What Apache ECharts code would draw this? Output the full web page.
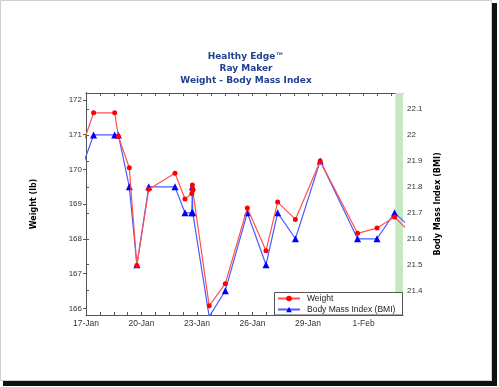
<!DOCTYPE html>
<html><head><meta charset="utf-8">
<script src="https://cdn.jsdelivr.net/npm/echarts@6/dist/echarts.min.js"></script>
<style>html,body{margin:0;padding:0;background:#fff}#c{width:499px;height:387px}</style>
</head><body><div id="c"></div>
<script>
// ---- data ----
const baseDate = '2009-01-17T00:00Z';
const readingTimes = [
  '2009-01-16T09:50','2009-01-17T09:50','2009-01-18T13:12','2009-01-18T18:00',
  '2009-01-19T08:10','2009-01-19T18:00','2009-01-20T09:22','2009-01-21T19:26',
  '2009-01-22T08:24','2009-01-22T17:17','2009-01-22T18:00','2009-01-22T18:29',
  '2009-01-23T15:50','2009-01-24T12:43','2009-01-25T17:17','2009-01-26T17:31',
  '2009-01-27T08:38','2009-01-28T07:41','2009-01-29T15:50','2009-01-31T16:19',
  '2009-02-01T17:31','2009-02-02T16:19','2009-02-04T04:48'
];
const weightLb = [170.07,171.63,171.63,170.95,170.05,167.23,169.43,169.89,169.15,169.31,169.55,169.40,
  166.07,166.71,168.89,167.66,169.06,168.56,170.24,168.16,168.31,168.63,167.82];
const bmiValues = [21.8,22.0,22.0,22.0,21.8,21.5,21.8,21.8,21.7,21.7,21.8,21.7,
  21.3,21.4,21.7,21.5,21.7,21.6,21.9,21.6,21.6,21.7,21.6];
const weightTicks = [166,167,168,169,170,171,172];
const bmiTicks = [21.4,21.5,21.6,21.7,21.8,21.9,22,22.1];
const dateLabelDays = [0,3,6,9,12,15];
const dateTickDays = [0,0.75,1.5,2.25,3,3.75,4.5,5.25,6,6.75,7.5,8.25,9,9.75,10.5,11.25,12,12.75,13.5,14.25,15,15.75,16.5];
const monthNames = ['Jan','Feb','Mar','Apr','May','Jun','Jul','Aug','Sep','Oct','Nov','Dec'];
const axisEndDay = 17.135;
const bandStartDay = 16.72;
const weightRange = [165.807, 172.2016];
const bmiRange = [21.3064, 22.1616];
const titleLines = ['Healthy Edge\u2122','Ray Maker','Weight - Body Mass Index'];

// ---- build ----
const base = Date.parse(baseDate);
const dayOf = t => (Date.parse(t + 'Z') - base) / 86400000;
const xs = readingTimes.map(dayOf);
const weightData = xs.map((x, i) => [x, weightLb[i]]);
const bmiData = xs.map((x, i) => [x, bmiValues[i]]);
const fmtDay = v => { const d = new Date(base + v * 86400000); return d.getUTCDate() + '-' + monthNames[d.getUTCMonth()]; };

const chart = echarts.init(document.getElementById('c'), null, {renderer: 'canvas'});
const lblFont = 'Liberation Sans';
chart.setOption({
  animation: false,
  graphic: [
    {type: 'rect', z: 0, shape: {x: 0.5, y: 0.5, width: 491, height: 380}, style: {fill: '#fff', stroke: '#cfcfcf', lineWidth: 1}},
    {type: 'rect', z: 0, shape: {x: 492, y: 3, width: 5, height: 383}, style: {fill: '#111'}},
    {type: 'rect', z: 0, shape: {x: 3, y: 381, width: 494, height: 5}, style: {fill: '#111'}},
    {type: 'text', z: 5, x: 246, y: 51, style: {text: titleLines.join('\n'), textAlign: 'center', fill: '#21418f',
      font: 'bold 9px "DejaVu Sans"', lineHeight: 12}},
    {type: 'rect', z: 30, shape: {x: 274.5, y: 292.5, width: 128, height: 22.5}, style: {fill: '#fff', stroke: '#555', lineWidth: 1}}
  ],
  grid: {left: 86, right: 96, top: 93, bottom: 72, show: true, borderColor: '#555', borderWidth: 1,
    backgroundColor: new echarts.graphic.LinearGradient(0, 0, 0, 1, [{offset: 0, color: '#fefefe'}, {offset: 1, color: '#ebebeb'}])},
  legend: {
    z: 40, orient: 'vertical', left: 277, top: 294, padding: 0, itemWidth: 22, itemHeight: 7, itemGap: 2,
    textStyle: {fontSize: 8.5, fontFamily: lblFont, color: '#222', padding: [0, 0, 0, 2]},
    data: ['Weight', 'Body Mass Index (BMI)']
  },
  xAxis: [
    {type: 'value', position: 'bottom', min: 0, max: axisEndDay,
      axisLine: {show: true, lineStyle: {color: '#555'}},
      axisTick: {show: true, inside: true, length: 3, customValues: dateTickDays, lineStyle: {color: '#555'}},
      axisLabel: {customValues: dateLabelDays, formatter: fmtDay, fontSize: 8.5, fontFamily: lblFont, color: '#333', margin: 4},
      splitLine: {show: false}},
    {type: 'value', position: 'top', min: 0, max: axisEndDay,
      axisLine: {show: true, lineStyle: {color: '#555'}},
      axisTick: {show: true, inside: true, length: 3, customValues: dateTickDays, lineStyle: {color: '#555'}},
      axisLabel: {show: false}, splitLine: {show: false}}
  ],
  yAxis: [
    {type: 'value', position: 'left', min: weightRange[0], max: weightRange[1],
      name: 'Weight (lb)', nameLocation: 'middle', nameRotate: 90, nameGap: 48,
      nameTextStyle: {fontFamily: 'DejaVu Sans', fontWeight: 'bold', fontSize: 8, color: '#000'},
      axisLine: {show: true, lineStyle: {color: '#555'}},
      axisTick: {show: true, inside: false, length: 3, customValues: weightTicks, lineStyle: {color: '#555'}},
      axisLabel: {customValues: weightTicks, fontSize: 8, fontFamily: lblFont, color: '#333', margin: 4},
      splitLine: {show: false}},
    {type: 'value', position: 'right', min: bmiRange[0], max: bmiRange[1],
      name: 'Body Mass Index (BMI)', nameLocation: 'middle', nameRotate: 90, nameGap: 30,
      nameTextStyle: {fontFamily: 'DejaVu Sans', fontWeight: 'bold', fontSize: 8, color: '#000'},
      axisLine: {show: true, lineStyle: {color: '#555'}},
      axisTick: {show: true, inside: false, length: 3, customValues: bmiTicks, lineStyle: {color: '#555'}},
      axisLabel: {customValues: bmiTicks, fontSize: 8, fontFamily: lblFont, color: '#333', margin: 4},
      splitLine: {show: false}}
  ],
  series: [
    {name: 'Weight', type: 'line', xAxisIndex: 0, yAxisIndex: 0, z: 4, data: weightData,
      symbol: 'circle', symbolSize: 5, showAllSymbol: true,
      itemStyle: {color: '#ff0000'}, lineStyle: {color: '#ff5050', width: 1.2},
      markArea: {silent: true, itemStyle: {color: '#c4e9bf'}, data: [[{xAxis: bandStartDay}, {xAxis: axisEndDay}]]}},
    {name: 'Body Mass Index (BMI)', type: 'line', xAxisIndex: 0, yAxisIndex: 1, z: 3, data: bmiData,
      symbol: 'triangle', symbolSize: 7, showAllSymbol: true,
      itemStyle: {color: '#0000ff'}, lineStyle: {color: '#4a5aff', width: 1.2}}
  ]
});
</script></body></html>
